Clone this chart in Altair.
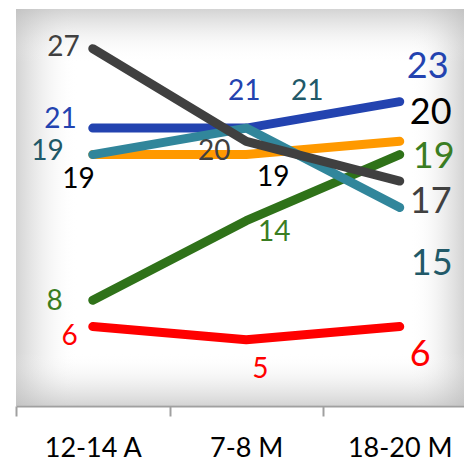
import json
import altair as alt
import pandas as pd

# ---- data ----
categories = ["12-14 A", "7-8 M", "18-20 M"]
series_names = ["Rojo", "Verde", "Naranja", "Azul", "Turquesa", "Gris"]
red_vals = [6, 5, 6]
green_vals = [8, 14, 19]
orange_vals = [19, 19, 20]
blue_vals = [21, 21, 23]
teal_vals = [19, 21, 15]
gray_vals = [27, 20, 17]

# ---- styles ----
line_colors = {
    "Rojo": "#ff0000",
    "Verde": "#2f7219",
    "Naranja": "#ff9900",
    "Azul": "#2343b0",
    "Turquesa": "#31869b",
    "Gris": "#404040",
}
label_colors = {
    "Rojo": "#ff0000",
    "Verde": "#3a7d22",
    "Naranja": "#000000",
    "Azul": "#2343b0",
    "Turquesa": "#215968",
    "Gris": "#404040",
}
# (align, dx, dy) per category for each series' labels
placement = {
    "Rojo": [("right", -15, 10), ("center", 14, 30), ("left", 10, 28)],
    "Verde": [("right", -30, 2), ("center", 28, 12), ("left", 13, 2)],
    "Naranja": [("right", 2, 25), ("center", 27, 23), ("left", 10, -28)],
    "Azul": [("right", -16, -8), ("center", -2, -36), ("left", 7, -35)],
    "Turquesa": [("right", -29, -3), ("center", 61, -36), ("left", 11, 56)],
    "Gris": [("right", -13, -1), ("center", -32, 11), ("left", 10, 21)],
}
label_sizes = [28, 28, 36]
FONT = "Lato"

values_by_series = {
    "Rojo": red_vals,
    "Verde": green_vals,
    "Naranja": orange_vals,
    "Azul": blue_vals,
    "Turquesa": teal_vals,
    "Gris": gray_vals,
}

W, H = 448, 397
UNIT = 153.5  # pixels per category step

label_expr = json.dumps(categories) + "[round(datum.value + 0.5)]"
x_axis = alt.Axis(
    values=[-0.5, 0.5, 1.5],
    labelExpr=label_expr,
    labelOffset=UNIT / 2,
    labelAlign="center",
    labelAngle=0,
    tickSize=10,
    tickWidth=2,
    tickColor="#a0a0a0",
    domainColor="#a0a0a0",
    domainWidth=2,
    labelFontSize=27,
    labelFont=FONT,
    labelColor="#000000",
    labelPadding=19,
    labelFlush=False,
    labelOverlap=False,
    labelBound=False,
    grid=False,
    title=None,
)
x_scale = alt.Scale(domain=[-0.5, -0.5 + W / UNIT], nice=False, zero=False)
y_scale = alt.Scale(domain=[0, 30], nice=False, zero=True)


def xenc():
    return alt.X("idx:Q", scale=x_scale, axis=x_axis)


def yenc():
    return alt.Y("value:Q", scale=y_scale, axis=None)


dummy = pd.DataFrame({"a": [0]})


def grad(x1, y1, x2, y2):
    return alt.Gradient(
        gradient="linear",
        stops=[
            alt.GradientStop(color="rgba(185,185,185,0.62)", offset=0),
            alt.GradientStop(color="rgba(200,200,200,0.25)", offset=0.45),
            alt.GradientStop(color="rgba(255,255,255,0)", offset=1),
        ],
        x1=x1, y1=y1, x2=x2, y2=y2,
    )


FX, FY = 62, 54
bg_layers = [
    alt.Chart(dummy).mark_rect(color=grad(0, 0, 1, 0)).encode(
        x=alt.value(0), x2=alt.value(FX), y=alt.value(0), y2=alt.value(H)),
    alt.Chart(dummy).mark_rect(color=grad(1, 0, 0, 0)).encode(
        x=alt.value(W - FX + 8), x2=alt.value(W), y=alt.value(0), y2=alt.value(H)),
    alt.Chart(dummy).mark_rect(color=grad(0, 0, 0, 1)).encode(
        x=alt.value(0), x2=alt.value(W), y=alt.value(0), y2=alt.value(FY)),
    alt.Chart(dummy).mark_rect(color=grad(0, 1, 0, 0)).encode(
        x=alt.value(0), x2=alt.value(W), y=alt.value(H - FY), y2=alt.value(H)),
]

line_layers = []
for name in series_names:
    df = pd.DataFrame({"idx": [0, 1, 2], "value": values_by_series[name]})
    line_layers.append(
        alt.Chart(df).mark_line(
            color=line_colors[name], strokeWidth=9, strokeCap="round", strokeJoin="round"
        ).encode(x=xenc(), y=yenc())
    )

text_layers = []
for name in series_names:
    vals = values_by_series[name]
    for i, v in enumerate(vals):
        align, dx, dy = placement[name][i]
        df = pd.DataFrame({"idx": [i], "value": [v], "label": [str(v)]})
        text_layers.append(
            alt.Chart(df).mark_text(
                align=align, baseline="middle", dx=dx, dy=dy,
                fontSize=label_sizes[i], font=FONT, color=label_colors[name],
            ).encode(x=xenc(), y=yenc(), text="label:N")
        )

chart = alt.layer(*bg_layers, *line_layers, *text_layers).properties(
    width=W,
    height=H,
    autosize=alt.AutoSizeParams(type="none"),
    padding={"left": 8, "top": 1, "right": 0, "bottom": 56},
    background="white",
).configure_view(stroke=None, fill="white")

chart.save("out.html", embed_options={"renderer": "svg", "actions": False})
